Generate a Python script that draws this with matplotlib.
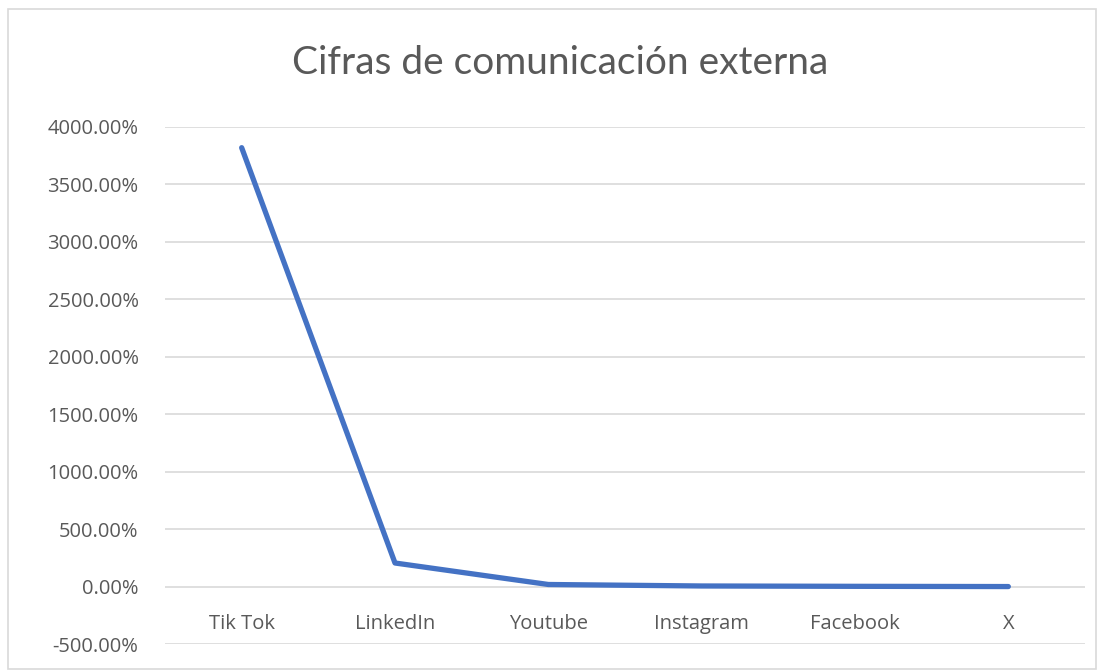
import matplotlib
matplotlib.use("Agg")
import matplotlib.pyplot as plt
from matplotlib.patches import Rectangle
from matplotlib.ticker import FuncFormatter

plt.rcParams['font.family'] = ['Open Sans', 'DejaVu Sans']

redes = ["Tik Tok", "LinkedIn", "Youtube", "Instagram", "Facebook", "X"]
cifras = [3820, 205, 18, 5, 2, 0]   # porcentaje
yticks = list(range(-500, 4001, 500))

fig = plt.figure(figsize=(11.05, 6.72), dpi=100)
fig.patches.append(Rectangle((8/1105, 3/672), 1088/1105, 660/672, transform=fig.transFigure,
                             fill=False, edgecolor="#d9d9d9", linewidth=1.2))

ax = fig.add_axes([165/1105, 1 - 644/672, 920/1105, (644 - 127)/672])
x = range(len(redes))
ax.plot(x, cifras, color="#4472C4", linewidth=3.8, solid_capstyle="round", solid_joinstyle="round")

ax.set_xlim(-0.5, len(redes) - 0.5)
ax.set_ylim(-500, 4000)
ax.set_yticks(yticks)
ax.yaxis.set_major_formatter(FuncFormatter(lambda v, p: f"{v:.2f}%"))
ax.grid(axis="y", color="#d9d9d9", linewidth=1.2)
ax.set_axisbelow(True)
for s in ax.spines.values():
    s.set_visible(False)
ax.spines['bottom'].set_position(('data', 0))
ax.set_xticks(list(x))
ax.set_xticklabels(redes)
ax.tick_params(axis="both", length=0, labelsize=14.5, labelcolor="#595959")
ax.tick_params(axis="x", pad=20)
ax.tick_params(axis="y", pad=19)

fig.text(0.507, 1 - 63/672, "Cifras de comunicación externa", ha="center", va="center",
         fontsize=28, color="#595959", family=["Lato", "DejaVu Sans"])

fig.savefig("out.png", dpi=100)
